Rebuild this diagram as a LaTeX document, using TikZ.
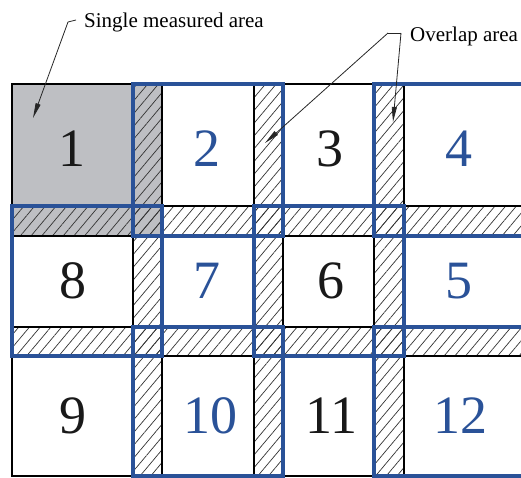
\documentclass[tikz,border=0pt]{standalone}
\usepackage{fontspec}
\setmainfont{Liberation Serif}
\usetikzlibrary{patterns.meta,arrows.meta}
\definecolor{imgblue}{RGB}{42,82,152}
\definecolor{imggray}{RGB}{190,191,195}
\tikzset{
  hatch/.style={pattern={Lines[angle=50,distance=8.2pt,line width=0.7pt]},pattern color=black!80},
  kbox/.style={draw=black,line width=2.3pt},
  bbox/.style={draw=imgblue,line width=3.8pt},
  kdig/.style={text=black!90,font=\fontsize{54}{54}\selectfont,inner sep=0pt},
  bdig/.style={text=imgblue,font=\fontsize{54}{54}\selectfont,inner sep=0pt},
  lbl/.style={font=\fontsize{21}{21}\selectfont,inner sep=0pt,anchor=base west},
  lead/.style={line width=0.8pt,draw=black!85},
  leadarrow/.style={lead,-{Triangle[length=15pt,width=5pt]}}
}
\begin{document}
\begin{tikzpicture}[x=1pt,y=-1pt]
\useasboundingbox (0,0) rectangle (521,477);
\clip (0,0) rectangle (521,477);
% single measured area (image 1) in gray
\fill[imggray] (12,84) rectangle (162,236);
% overlap bands
\foreach \a/\b in {133/162,254/283,374/404}{
  \path[hatch] (\a,84) rectangle (\b,476);
}
\foreach \a/\b in {206/236,327/356}{
  \path[hatch] (12,\a) rectangle (530,\b);
}
% black image frames
\draw[kbox] (12,84) rectangle (162,236);
\draw[kbox] (254,84) rectangle (404,236);
\draw[kbox] (133,206) rectangle (283,356);
\draw[kbox] (374,206) rectangle (530,356);
\draw[kbox] (12,327) rectangle (162,476);
\draw[kbox] (254,327) rectangle (404,476);
% blue image frames
\draw[bbox] (133,84) rectangle (283,236);
\draw[bbox] (374,84) rectangle (530,236);
\draw[bbox] (12,206) rectangle (162,356);
\draw[bbox] (254,206) rectangle (404,356);
\draw[bbox] (133,327) rectangle (283,476);
\draw[bbox] (374,327) rectangle (530,476);
% numbers
\node[kdig] (n1) at (72,149) {1};
\node[bdig] (n2) at (207,149) {2};
\node[kdig] (n3) at (330,149) {3};
\node[bdig] (n4) at (459,149) {4};
\node[kdig] (n8) at (73,281) {8};
\node[bdig] (n7) at (207,281) {7};
\node[kdig] (n6) at (331,281) {6};
\node[bdig] (n5) at (459,281) {5};
\node[kdig] (n9) at (73,416) {9};
\node[bdig] (n10) at (210,416) {10};
\node[kdig] (n11) at (331,416) {11};
\node[bdig] (n12) at (460,416) {12};
% labels
\node[lbl] (single) at (84,27) {Single measured area};
\node[lbl] (overlap) at (410,41) {Overlap area};
% leaders
\coordinate (s0) at (68,22);
\coordinate (s1) at (76,20);
\coordinate (sT) at (33,118);
\draw[lead] (s1) -- (s0);
\draw[leadarrow] (s0) -- (sT);
\coordinate (o0) at (388,33);
\coordinate (o1) at (401,33);
\coordinate (oT1) at (265,143);
\coordinate (oT2) at (393,122);
\draw[lead] (o0) -- (o1);
\draw[leadarrow] (o0) -- (oT1);
\draw[leadarrow] (o1) -- (oT2);
\end{tikzpicture}
\end{document}
